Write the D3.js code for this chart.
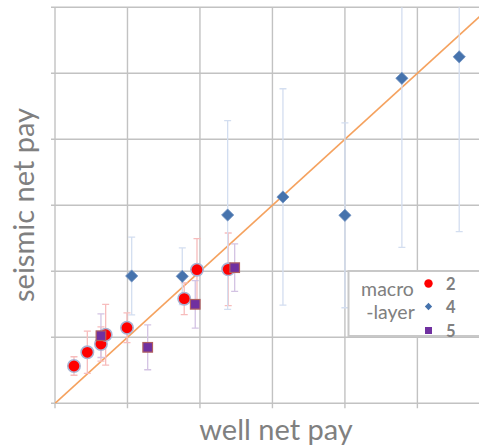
<!DOCTYPE html>
<html>
<head>
<meta charset="utf-8">
<script src="https://cdn.jsdelivr.net/npm/d3@7"></script>
<style>
  html, body { margin: 0; padding: 0; background: #fff; }
  svg { display: block; }
</style>
</head>
<body>
<svg id="chart" width="479" height="447"></svg>
<script>
// Macro-layer 2
const well2 = [2.62, 4.46, 6.34, 6.99, 9.93, 17.83, 19.59, 23.9];
const seis2 = [5.65, 7.73, 8.98, 10.39, 11.45, 15.85, 20.24, 20.3];
const err2  = [1.4, 3.2, 2.6, 4.6, 2.25, 2.4, 4.7, 5.5];

// Macro-layer 4
const well4 = [10.58, 17.56, 23.82, 31.45, 40.0, 47.86, 55.77];
const seis4 = [19.29, 19.24, 28.53, 31.26, 28.48, 49.24, 52.5];
const err4  = [5.9, 4.3, 14.3, 16.4, 14.0, 25.6, 26.5];

// Macro-layer 5
const well5 = [6.34, 12.79, 19.35, 24.79];
const seis5 = [10.24, 8.48, 15.0, 20.55];
const err5  = [3.3, 3.4, 3.6, 3.6];

const xTicks = [0, 10, 20, 30, 40, 50];
const yTicks = [0, 10, 20, 30, 40, 50, 60];
const legendLabels = ["2", "4", "5"];

const svg = d3.select("#chart");
const plotLeft = 55, plotRight = 479, plotTop = 7.3, plotBottom = 403.3;

const x = d3.scaleLinear().domain([0, 58.5]).range([plotLeft, plotRight]);
const y = d3.scaleLinear().domain([0, 60]).range([plotBottom, plotTop]);

const font = "Lato, 'Open Sans', sans-serif";
const grey = "#808080";

// grid
const grid = svg.append("g");
grid.selectAll(".vg").data(xTicks).join("line")
  .attr("x1", d => x(d)).attr("x2", d => x(d))
  .attr("y1", plotTop).attr("y2", plotBottom + 5)
  .attr("stroke", "#c2c2c2").attr("stroke-width", 1.4);
grid.selectAll(".hg").data(yTicks).join("line")
  .attr("x1", plotLeft - 4).attr("x2", plotRight)
  .attr("y1", d => y(d)).attr("y2", d => y(d))
  .attr("stroke", "#c2c2c2").attr("stroke-width", 1.4);

svg.append("defs").append("clipPath").attr("id", "plotClip")
  .append("rect").attr("x", plotLeft).attr("y", plotTop)
  .attr("width", plotRight - plotLeft).attr("height", plotBottom - plotTop);

const plot = svg.append("g").attr("clip-path", "url(#plotClip)");

// 1:1 reference line
plot.append("line")
  .attr("x1", x(0)).attr("y1", y(0))
  .attr("x2", x(60)).attr("y2", y(60))
  .attr("stroke", "#f5a25f").attr("stroke-width", 1.6);

function makeSeries(wx, wy, we) {
  return wx.map((v, i) => ({ x: v, y: wy[i], e: we[i] }));
}
const s2 = makeSeries(well2, seis2, err2);
const s4 = makeSeries(well4, seis4, err4);
const s5 = makeSeries(well5, seis5, err5);

function errorBars(data, color) {
  const g = plot.append("g").attr("stroke", color).attr("stroke-width", 1.3);
  data.forEach(d => {
    g.append("line").attr("x1", x(d.x)).attr("x2", x(d.x))
      .attr("y1", y(d.y + d.e)).attr("y2", y(d.y - d.e));
    [d.y + d.e, d.y - d.e].forEach(v => {
      g.append("line").attr("x1", x(d.x) - 3.5).attr("x2", x(d.x) + 3.5)
        .attr("y1", y(v)).attr("y2", y(v));
    });
  });
}

errorBars(s2, "#f7bcbc");
errorBars(s4, "#d3def0");
errorBars(s5, "#d3c3e3");

// markers
plot.append("g").selectAll("circle").data(s2).join("circle")
  .attr("cx", d => x(d.x)).attr("cy", d => y(d.y)).attr("r", 6.2)
  .attr("fill", "#ff0000").attr("stroke", "#a9b3d3").attr("stroke-width", 1.6);

const diamond = d3.symbol().type(d3.symbolDiamond2).size(95);
plot.append("g").selectAll("path").data(s4).join("path")
  .attr("transform", d => `translate(${x(d.x)},${y(d.y)})`)
  .attr("d", diamond)
  .attr("fill", "#4673ad").attr("stroke", "#6e90c0").attr("stroke-width", 0.8);

plot.append("g").selectAll("rect").data(s5).join("rect")
  .attr("x", d => x(d.x) - 4.8).attr("y", d => y(d.y) - 4.8)
  .attr("width", 9.6).attr("height", 9.6)
  .attr("fill", "#7030a0").attr("stroke", "#b06060").attr("stroke-width", 1.2);

// axis titles
svg.append("text")
  .attr("x", 276).attr("y", 440)
  .attr("text-anchor", "middle")
  .attr("font-family", font).attr("font-size", 29)
  .attr("fill", grey)
  .text("well net pay");

svg.append("text")
  .attr("transform", "translate(34,205) rotate(-90)")
  .attr("text-anchor", "middle")
  .attr("font-family", font).attr("font-size", 29)
  .attr("fill", grey)
  .text("seismic net pay");

// legend
const lg = svg.append("g");
lg.append("rect")
  .attr("x", 348.5).attr("y", 271).attr("width", 140).attr("height", 65)
  .attr("fill", "#fff").attr("stroke", "#c8c8c8").attr("stroke-width", 2);
lg.append("text").attr("x", 387.5).attr("y", 296).attr("text-anchor", "middle")
  .attr("font-family", font).attr("font-size", 19.5).attr("fill", grey).text("macro");
lg.append("text").attr("x", 390.5).attr("y", 319).attr("text-anchor", "middle")
  .attr("font-family", font).attr("font-size", 19.5).attr("fill", grey).text("-layer");

const legY = [283.5, 306.5, 330.5];
lg.append("circle").attr("cx", 428.5).attr("cy", legY[0]).attr("r", 4.2).attr("fill", "#ff0000");
lg.append("path").attr("transform", `translate(428.5,${legY[1]})`)
  .attr("d", d3.symbol().type(d3.symbolDiamond2).size(34)).attr("fill", "#4673ad");
lg.append("rect").attr("x", 425).attr("y", legY[2] - 3.5).attr("width", 7).attr("height", 7).attr("fill", "#7030a0");

lg.selectAll(".lab").data(legendLabels).join("text")
  .attr("x", 446).attr("y", (d, i) => legY[i] + 6)
  .attr("font-family", font).attr("font-size", 16.5).attr("font-weight", "bold")
  .attr("fill", grey).text(d => d);
</script>
</body>
</html>
